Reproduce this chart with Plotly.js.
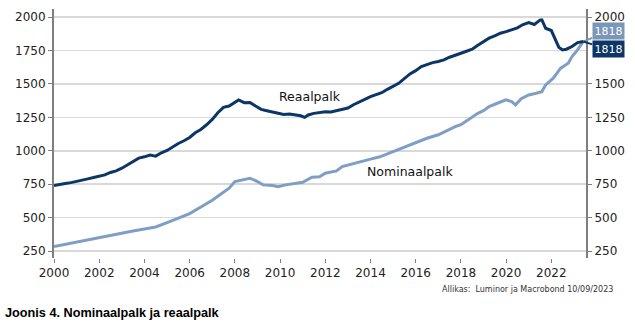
<!DOCTYPE html>
<html>
<head>
<meta charset="utf-8">
<script src="https://cdn.plot.ly/plotly-3.0.1.min.js"></script>
<style>html,body{margin:0;padding:0;background:#fff;}#chart{width:635px;height:335px;}</style>
</head>
<body>
<div id="chart"></div>
<script>
// Reaalpalk (real wage)
const realDates = ['2000-01','2000-04','2000-07','2000-10','2001-01','2001-04','2001-07','2001-10','2002-01','2002-04','2002-07','2002-10','2003-01','2003-04','2003-07','2003-10','2004-01','2004-04','2004-07','2004-10','2005-01','2005-04','2005-07','2005-10','2006-01','2006-04','2006-07','2006-10','2007-01','2007-04','2007-07','2007-10','2008-01','2008-03','2008-06','2008-09','2008-12','2009-03','2009-06','2009-09','2009-12','2010-03','2010-06','2010-09','2010-12','2011-02','2011-04','2011-07','2011-10','2012-01','2012-04','2012-07','2012-10','2013-01','2013-04','2013-07','2013-10','2014-01','2014-04','2014-07','2014-10','2015-01','2015-04','2015-07','2015-10','2016-01','2016-04','2016-07','2016-10','2017-01','2017-04','2017-07','2017-10','2018-01','2018-04','2018-07','2018-10','2019-01','2019-04','2019-07','2019-10','2020-01','2020-04','2020-07','2020-10','2021-01','2021-04','2021-07','2021-08','2021-10','2022-01','2022-03','2022-05','2022-07','2022-09','2022-12','2023-03','2023-06'];
const realValues = [740,745,755,762,770,780,790,800,810,820,838,850,870,895,915,945,955,968,960,985,1003,1030,1055,1075,1100,1135,1160,1195,1235,1285,1325,1335,1360,1381,1360,1362,1335,1310,1300,1290,1278,1272,1275,1268,1262,1250,1268,1280,1285,1293,1290,1300,1311,1320,1345,1368,1385,1405,1418,1435,1460,1481,1505,1540,1575,1600,1630,1645,1660,1668,1680,1700,1718,1730,1745,1760,1790,1820,1843,1860,1880,1892,1905,1920,1945,1960,1945,1978,1980,1917,1900,1843,1775,1755,1760,1780,1810,1818];

// Nominaalpalk (nominal wage)
const nomDates = ['2000-01','2000-07','2001-01','2001-07','2002-01','2002-07','2003-01','2003-07','2004-01','2004-07','2005-01','2005-07','2006-01','2006-07','2007-01','2007-07','2007-10','2008-01','2008-05','2008-09','2009-01','2009-04','2009-09','2009-12','2010-04','2010-09','2011-01','2011-06','2011-10','2012-01','2012-07','2012-10','2013-04','2013-07','2014-01','2014-06','2015-01','2015-07','2016-01','2016-07','2017-01','2017-04','2017-07','2017-10','2018-01','2018-04','2018-07','2018-10','2019-01','2019-04','2019-10','2020-01','2020-04','2020-06','2020-09','2021-01','2021-05','2021-08','2021-10','2022-02','2022-06','2022-10','2022-12','2023-03','2023-06'];
const nomValues = [283,300,318,335,352,370,385,400,415,430,462,495,530,580,630,690,720,770,780,795,770,745,740,732,745,757,765,802,805,832,850,882,905,920,938,955,994,1030,1065,1094,1120,1140,1165,1181,1195,1225,1256,1280,1300,1331,1365,1381,1368,1344,1390,1418,1431,1443,1493,1543,1618,1656,1705,1755,1818];

const tickYears = ['2000','2002','2004','2006','2008','2010','2012','2014','2016','2018','2020','2022'];
const yTicks = [250,500,750,1000,1250,1500,1750,2000];
// right-hand labels: 1750 is covered by the end-value boxes in the original
const yTicksRight = [250,500,750,1000,1250,1500,2000];

const seriesNames = ['Reaalpalk','Nominaalpalk'];
const titleText = 'Joonis 4. Nominaalpalk ja reaalpalk';
const sourceText = 'Allikas:  Luminor ja Macrobond 10/09/2023';

const DARK = '#0b3665';
const LIGHT = '#7f9ec4';
const LIGHTBOX = '#7b96b7';
const FONT = 'DejaVu Sans, Verdana, sans-serif';

const realLast = realValues[realValues.length-1];
const nomLast = nomValues[nomValues.length-1];
const realLastX = realDates[realDates.length-1];
const nomLastX = nomDates[nomDates.length-1];

const traces = [
  {x: nomDates, y: nomValues, type:'scatter', mode:'lines', name: seriesNames[1],
   line:{color: LIGHT, width:3}, hoverinfo:'skip'},
  {x: realDates, y: realValues, type:'scatter', mode:'lines', name: seriesNames[0],
   line:{color: DARK, width:3}, hoverinfo:'skip'},
  {x: realDates, y: realValues, type:'scatter', mode:'lines', yaxis:'y2',
   line:{color:'rgba(0,0,0,0)', width:0}, hoverinfo:'skip', showlegend:false}
];

const yCommon = {
  range:[198, 2061],
  showline:true, linecolor:'#7f7f7f', linewidth:2,
  ticks:'outside', ticklen:4, tickcolor:'#7f7f7f', tickwidth:1,
  tickfont:{family: FONT, size:12, color:'#222'}, zeroline:false, fixedrange:true
};

const layout = {
  width:635, height:335,
  margin:{l:54, r:49, t:9, b:77},
  paper_bgcolor:'#fff', plot_bgcolor:'#fff',
  showlegend:false,
  xaxis:{
    type:'date', range:['2000-01-01','2023-07-15'],
    tickvals: tickYears.map(y => y + '-01-01'), ticktext: tickYears,
    showgrid:false, showline:false, zeroline:false,
    ticks:'outside', ticklen:4, tickcolor:'#7f7f7f',
    tickfont:{family: FONT, size:12, color:'#222'}
  },
  yaxis: Object.assign({}, yCommon, {side:'left', tickvals: yTicks, ticktext: yTicks.map(String),
    showgrid:true, gridcolor:'#d9d9d9', gridwidth:1.5}),
  yaxis2: Object.assign({}, yCommon, {side:'right', overlaying:'y', showgrid:false,
    tickvals: yTicksRight, ticktext: yTicksRight.map(String)}),
  annotations:[
    {x:'2011-05-01', y:1410, xref:'x', yref:'y', text: seriesNames[0], showarrow:false,
     font:{family: FONT, size:12.5, color:'#111'}},
    {x:'2015-10-01', y:842, xref:'x', yref:'y', text: seriesNames[1], showarrow:false,
     font:{family: FONT, size:12.5, color:'#111'}},
    {x: nomLastX, y: nomLast, xref:'x', yref:'y', text: String(nomLast),
     showarrow:true, arrowhead:0, arrowwidth:2, arrowcolor: LIGHTBOX, ax:25, ay:-10,
     bgcolor: LIGHTBOX, borderpad:1.5, font:{family: FONT, size:11, color:'#fff'}},
    {x: realLastX, y: realLast, xref:'x', yref:'y', text: String(realLast),
     showarrow:true, arrowhead:0, arrowwidth:2, arrowcolor: DARK, ax:25, ay:8,
     bgcolor: DARK, borderpad:1.5, font:{family: FONT, size:11, color:'#fff'}},
    {x:1.0545, y:-0.127, xref:'paper', yref:'paper', xanchor:'right', yanchor:'middle',
     text: sourceText, showarrow:false, font:{family: FONT, size:8, color:'#333'}},
    {x:-0.0959, y:-0.22, xref:'paper', yref:'paper', xanchor:'left', yanchor:'middle',
     text: '<b>' + titleText + '</b>', showarrow:false,
     font:{family:'Liberation Sans, Arial, sans-serif', size:12.7, color:'#000'}}
  ]
};

Plotly.newPlot('chart', traces, layout, {staticPlot:true, displayModeBar:false});
</script>
</body>
</html>
